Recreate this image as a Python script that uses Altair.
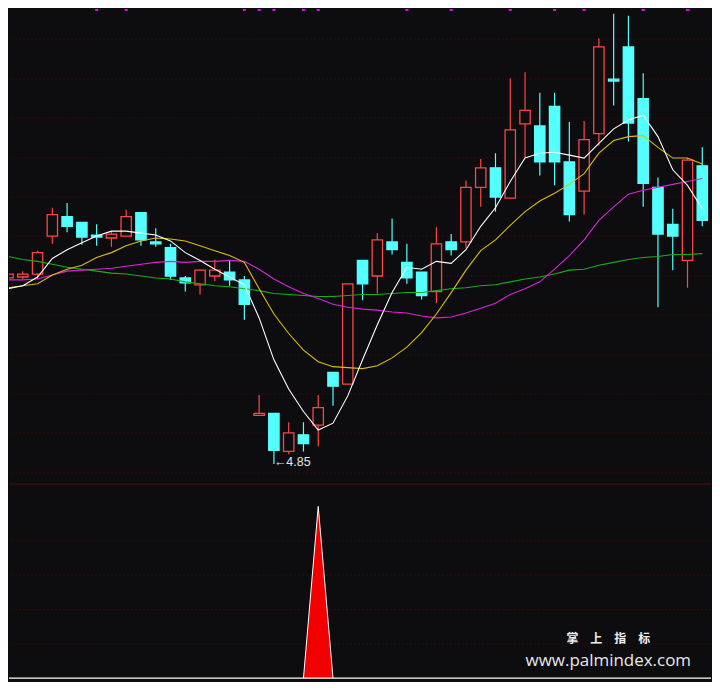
import altair as alt
import pandas as pd

# ---------------- data ----------------
opens = [6.76, 6.77, 6.80, 7.19, 7.39, 7.33, 7.20, 7.17, 7.19, 7.43,
         7.13, 7.07, 6.76, 6.69, 6.78, 6.82, 6.74, 5.35, 5.37, 4.98,
         5.15, 5.25, 5.79, 5.67, 6.94, 6.78, 7.13, 6.92, 6.82, 6.62,
         7.13, 7.13, 7.69, 7.89, 7.58, 8.34, 8.32, 8.52, 7.95, 7.65,
         8.24, 8.80, 9.13, 8.60, 7.69, 7.31, 6.94, 7.91]
highs = [6.80, 6.83, 7.04, 7.48, 7.53, 7.33, 7.31, 7.24, 7.46, 7.43,
         7.27, 7.11, 6.78, 6.85, 6.95, 6.94, 6.78, 5.56, 5.37, 5.28,
         5.28, 5.56, 5.79, 6.70, 6.94, 7.22, 7.37, 7.11, 6.82, 7.28,
         7.21, 7.76, 7.98, 8.04, 8.81, 8.87, 8.66, 8.66, 8.36, 8.37,
         9.22, 9.47, 9.45, 8.86, 7.79, 7.47, 7.99, 8.10]
lows = [6.76, 6.75, 6.75, 7.11, 7.23, 7.10, 7.09, 7.08, 7.19, 7.09,
        7.08, 6.74, 6.62, 6.59, 6.73, 6.68, 6.33, 5.35, 4.85, 4.95,
        4.98, 5.03, 5.45, 5.67, 6.53, 6.60, 7.00, 6.70, 6.54, 6.50,
        6.99, 7.07, 7.49, 7.44, 7.58, 7.99, 7.81, 7.71, 7.34, 7.41,
        8.12, 8.53, 8.16, 7.49, 6.46, 6.84, 6.66, 7.29]
closes = [6.80, 6.80, 7.02, 7.41, 7.29, 7.18, 7.18, 7.21, 7.39, 7.15,
          7.11, 6.78, 6.71, 6.84, 6.84, 6.74, 6.49, 5.37, 4.99, 5.17,
          5.06, 5.43, 5.65, 6.70, 6.70, 7.15, 7.05, 6.76, 6.58, 7.11,
          7.05, 7.69, 7.89, 7.59, 8.28, 8.48, 7.95, 7.95, 7.41, 8.18,
          9.13, 8.78, 8.35, 7.73, 7.21, 7.19, 7.97, 7.35]

ma5 = [6.65, 6.68, 6.77, 6.96, 7.05, 7.12, 7.19, 7.24, 7.24, 7.22,
       7.20, 7.14, 7.02, 6.94, 6.85, 6.77, 6.69, 6.35, 5.92, 5.62,
       5.39, 5.20, 5.27, 5.55, 5.92, 6.28, 6.61, 6.87, 6.85, 6.93,
       6.91, 7.05, 7.29, 7.48, 7.75, 7.99, 8.04, 8.05, 8.02, 7.99,
       8.14, 8.29, 8.38, 8.43, 8.21, 7.87, 7.71, 7.47]
ma10 = [6.66, 6.68, 6.70, 6.79, 6.85, 6.89, 6.97, 7.02, 7.09, 7.14,
        7.17, 7.16, 7.14, 7.09, 7.04, 6.99, 6.92, 6.65, 6.39, 6.19,
        6.02, 5.90, 5.85, 5.84, 5.83, 5.86, 5.94, 6.05, 6.20, 6.39,
        6.61, 6.84, 7.04, 7.15, 7.30, 7.44, 7.55, 7.63, 7.72, 7.83,
        8.04, 8.17, 8.21, 8.22, 8.10, 7.99, 7.99, 7.93]
ma20 = [6.74, 6.74, 6.75, 6.79, 6.83, 6.84, 6.85, 6.86, 6.88, 6.90,
        6.92, 6.93, 6.92, 6.93, 6.93, 6.94, 6.93, 6.85, 6.75, 6.67,
        6.60, 6.55, 6.49, 6.46, 6.44, 6.43, 6.41, 6.40, 6.37, 6.35,
        6.36, 6.40, 6.45, 6.50, 6.59, 6.65, 6.72, 6.85, 6.99, 7.15,
        7.35, 7.49, 7.62, 7.66, 7.69, 7.72, 7.75, 7.78]
ma60 = [6.98, 6.95, 6.93, 6.90, 6.87, 6.85, 6.83, 6.81, 6.80, 6.78,
        6.76, 6.75, 6.72, 6.70, 6.68, 6.67, 6.65, 6.63, 6.60, 6.59,
        6.58, 6.57, 6.57, 6.58, 6.59, 6.59, 6.60, 6.61, 6.61, 6.63,
        6.65, 6.66, 6.68, 6.69, 6.72, 6.75, 6.77, 6.80, 6.84, 6.85,
        6.89, 6.92, 6.95, 6.97, 6.98, 7.00, 7.00, 7.01]

grid_main = [9.21, 8.80, 8.40, 7.99, 7.59, 7.19, 6.78, 6.38, 5.97, 5.57, 5.17, 4.76]
grid_sub = [20, 40, 60, 80]

signal_idx = [20, 21, 22]
signal_val = [0, 100, 0]

top_marks = [6, 8, 16, 17, 18, 20, 21, 27, 30, 34, 37, 39, 43, 46]

low_idx = 18
low_text = "←4.85"
wm_cn = "掌　上　指　标"
wm_url = "www.palmindex.com"

# ---------------- styling ----------------
BG = "#0d0d10"
RED = "#ff4646"
CYAN = "#54ffff"
GRID = "#420909"
SEP = "#5a0b0b"
MA_COLORS = {"MA60": "#1aae1a", "MA20": "#dd22dd", "MA10": "#dcbc0c", "MA5": "#ffffff"}

W = 704
H_MAIN = 476
H_SUB = 198

xs = alt.Scale(domain=[0.066, 47.59], nice=False, zero=False)
ys = alt.Scale(domain=[4.65, 9.52], nice=False, zero=False)
ys2 = alt.Scale(domain=[-1.7, 113.3], nice=False, zero=False)

idx = list(range(len(opens)))
candles = pd.DataFrame({"i": idx, "open": opens, "high": highs,
                        "low": lows, "close": closes})
candles["dir"] = ["up" if c >= o else "down" for o, c in zip(opens, closes)]
candles["top"] = candles[["open", "close"]].max(axis=1)
candles["bot"] = candles[["open", "close"]].min(axis=1)
candles["x1"] = candles["i"] - 0.35
candles["x2"] = candles["i"] + 0.35

X = alt.X("i:Q", scale=xs, axis=None)

grid1 = alt.Chart(pd.DataFrame({"v": grid_main})).mark_rule(
    color=GRID, strokeDash=[1.5, 2.5], strokeWidth=1
).encode(y=alt.Y("v:Q", scale=ys, axis=None))

wicks = alt.Chart(candles).mark_rule(strokeWidth=1.2, clip=True).encode(
    x=X,
    y=alt.Y("low:Q", scale=ys, axis=None),
    y2="high:Q",
    color=alt.Color("dir:N", scale=alt.Scale(domain=["up", "down"], range=[RED, CYAN]), legend=None),
)

bodies = alt.Chart(candles).mark_rect(strokeWidth=1.3, clip=True).encode(
    x=alt.X("x1:Q", scale=xs, axis=None),
    x2="x2:Q",
    y=alt.Y("bot:Q", scale=ys, axis=None),
    y2="top:Q",
    fill=alt.Fill("dir:N", scale=alt.Scale(domain=["up", "down"], range=[BG, CYAN]), legend=None),
    stroke=alt.Stroke("dir:N", scale=alt.Scale(domain=["up", "down"], range=[RED, CYAN]), legend=None),
)

ma_layers = []
for name, vals in [("MA60", ma60), ("MA20", ma20), ("MA10", ma10), ("MA5", ma5)]:
    df = pd.DataFrame({"i": idx, "v": vals})
    ma_layers.append(
        alt.Chart(df).mark_line(color=MA_COLORS[name], strokeWidth=1.1, clip=True).encode(
            x=X, y=alt.Y("v:Q", scale=ys, axis=None)
        )
    )

label = alt.Chart(pd.DataFrame({"i": [low_idx], "v": [lows[low_idx]], "t": [low_text]})).mark_text(
    align="left", baseline="middle", fontSize=12.5, font="Liberation Sans",
    color="#e6e6e6", dy=-2
).encode(x=X, y=alt.Y("v:Q", scale=ys, axis=None), text="t:N")

tops = alt.Chart(pd.DataFrame({"i": top_marks})).transform_calculate(
    a="datum.i - 0.1", b="datum.i + 0.1"
).mark_rect(color="#ff00ff").encode(
    x=alt.X("a:Q", scale=xs, axis=None), x2="b:Q",
    y=alt.value(0), y2=alt.value(2)
)

main = alt.layer(grid1, wicks, bodies, *ma_layers, label, tops).properties(width=W, height=H_MAIN)

# ---------------- lower panel ----------------
grid2 = alt.Chart(pd.DataFrame({"v": grid_sub})).mark_rule(
    color=GRID, strokeDash=[1.5, 2.5], strokeWidth=1
).encode(y=alt.Y("v:Q", scale=ys2, axis=None))

sep = alt.Chart(pd.DataFrame({"a": [0]})).mark_rule(color=SEP, strokeWidth=1).encode(
    y=alt.value(0.5)
)

sig = pd.DataFrame({"i": signal_idx, "v": signal_val})
sig_area = alt.Chart(sig).mark_area(color="#f20000", clip=True).encode(
    x=X, y=alt.Y("v:Q", scale=ys2, axis=None)
)
sig_line = alt.Chart(sig).mark_line(color="#ffffff", strokeWidth=1, clip=True).encode(
    x=X, y=alt.Y("v:Q", scale=ys2, axis=None)
)

base = alt.Chart(pd.DataFrame({"v": [0]})).mark_rule(color="#ffffff", strokeWidth=1.5).encode(
    y=alt.Y("v:Q", scale=ys2, axis=None)
)

wm1 = alt.Chart(pd.DataFrame({"t": [wm_cn]})).mark_text(
    font="Noto Sans CJK SC", fontSize=12, fontWeight="bold", color="#f0f0f0",
    align="center", baseline="middle"
).encode(x=alt.value(601), y=alt.value(156), text="t:N")

wm2 = alt.Chart(pd.DataFrame({"t": [wm_url]})).mark_text(
    font="Open Sans", fontSize=17, color="#e8e8e8",
    align="center", baseline="middle"
).encode(x=alt.value(601), y=alt.value(178), text="t:N")

sub = alt.layer(grid2, sep, sig_area, sig_line, base, wm1, wm2).properties(width=W, height=H_SUB)

chart = alt.vconcat(main, sub, spacing=0).properties(
    background=BG, padding=0
).configure_view(stroke=None).configure_concat(spacing=0)

chart.save("out.html", embed_options={"renderer": "svg", "actions": False})
